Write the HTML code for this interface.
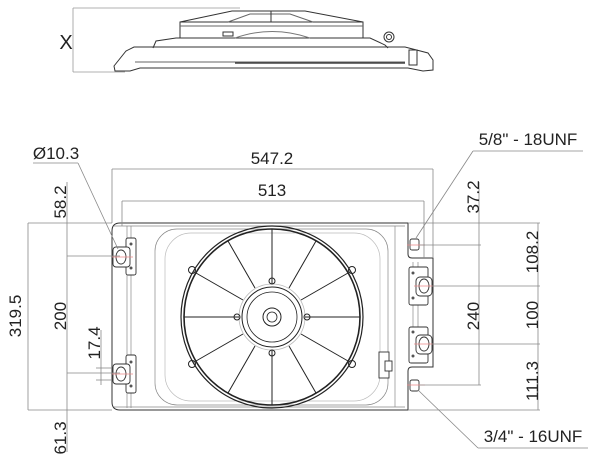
<!DOCTYPE html>
<html><head><meta charset="utf-8"><style>
html,body{margin:0;padding:0;background:#fff;}
svg{display:block;}
text{font-family:"Liberation Sans",sans-serif;fill:#222;}
</style></head><body>
<svg width="600" height="463" viewBox="0 0 600 463" xmlns="http://www.w3.org/2000/svg">
<g fill="none" stroke="#999" stroke-width="0.8">
<!-- top view dims -->
<line x1="73" y1="8" x2="240" y2="8"/>
<line x1="73" y1="8" x2="73" y2="72"/>
<line x1="73" y1="72" x2="125" y2="72"/>
</g>
<text x="66" y="49" font-size="20" text-anchor="middle">X</text>
<!-- top view body -->
<g fill="none" stroke="#333" stroke-width="1">
<path d="M114,66 L126,51 L134,47 L405,47 L428,53 L433,60 L433,70 L423,71 L408,68 L140,68 L130,71 L115,71 Z"/>
<line x1="135" y1="62" x2="405" y2="62" stroke="#666"/>
<line x1="235" y1="63" x2="405" y2="63" stroke="#444" stroke-width="1.5"/>
<path d="M153,48 L156,41 L176,38 L370,38 L385,45 L388,48"/>
<rect x="180" y="22" width="183" height="16"/>
<line x1="180" y1="26" x2="363" y2="26" stroke="#666"/>
<path d="M180,22 L232,11 L305,11 L363,22"/>
<path d="M228,22 L250,14 L290,14 L313,22" stroke="#666"/>
<line x1="271" y1="11" x2="271" y2="22"/>
<path d="M235,38 Q272,25 310,38" stroke="#777"/>
<rect x="223" y="32" width="10" height="4"/>
<circle cx="389" cy="37" r="5"/>
<circle cx="389" cy="37" r="2.5"/>
<rect x="409" y="50" width="8" height="15"/>
</g>
<!-- main body -->
<g fill="none" stroke="#333" stroke-width="1">
<path d="M120,223 L408,223 L408,254 Q408,258 412,258 L433,258 L433,367 L412,367 Q408,367 408,371 L408,410 L120,410 Q112,410 112,402 L112,231 Q112,223 120,223 Z"/>
</g>
<g fill="none" stroke="#888" stroke-width="0.7">
<line x1="127" y1="226" x2="127" y2="408"/>
<line x1="131" y1="226" x2="131" y2="408"/>
<line x1="114" y1="226" x2="405" y2="226"/>
<line x1="114" y1="407" x2="405" y2="407"/>
<rect x="155" y="229" width="233" height="176" rx="22"/>
<rect x="165" y="233" width="215" height="168" rx="26" stroke="#bbb"/>
<line x1="395" y1="226" x2="395" y2="407"/>
<line x1="413" y1="262" x2="413" y2="363"/>
<line x1="418" y1="262" x2="418" y2="363"/>
</g>
<!-- brackets left -->
<g fill="#fff" stroke="#333" stroke-width="0.9">
<rect x="126" y="238" width="10" height="37" rx="2"/>
<rect x="126" y="355" width="10" height="38" rx="2"/>
<rect x="113" y="247" width="17" height="20" rx="3"/>
<rect x="113" y="364" width="17" height="20" rx="3"/>
<ellipse cx="121" cy="257" rx="5" ry="7"/>
<ellipse cx="121" cy="374" rx="5" ry="7"/>
<rect x="409" y="267" width="19" height="38" rx="2"/>
<rect x="409" y="327" width="19" height="36" rx="2"/>
<rect x="416" y="277" width="16" height="19" rx="4"/>
<rect x="416" y="335" width="16" height="19" rx="4"/>
<ellipse cx="424" cy="286" rx="5" ry="7"/>
<ellipse cx="424" cy="344" rx="5" ry="7"/>
<rect x="410" y="239" width="9" height="11" rx="2"/>
<rect x="410" y="380" width="9" height="11" rx="2"/>
<rect x="379" y="352" width="10" height="26"/>
<rect x="385" y="361" width="7" height="10"/>
</g>
<g fill="#555">
<circle cx="131" cy="244" r="1.5"/><circle cx="131" cy="268" r="1.5"/>
<circle cx="131" cy="362" r="1.5"/><circle cx="131" cy="386" r="1.5"/>
<circle cx="413" cy="273" r="1.5"/><circle cx="413" cy="298" r="1.5"/>
<circle cx="413" cy="332" r="1.5"/><circle cx="413" cy="356" r="1.5"/>
</g>
<g stroke="#e88" stroke-width="0.8">
<line x1="112" y1="257" x2="133" y2="257"/><line x1="112" y1="374" x2="133" y2="374"/>
<line x1="414" y1="286" x2="434" y2="286"/><line x1="414" y1="344" x2="434" y2="344"/>
<line x1="407" y1="245" x2="425" y2="245"/><line x1="407" y1="385" x2="425" y2="385"/>
</g>
<!-- fan -->
<g fill="none" stroke="#222">
<circle cx="272" cy="317" r="91" stroke-width="1.2"/>
<circle cx="272" cy="317" r="88" stroke-width="1.6"/>
<circle cx="272" cy="317" r="33" stroke="#bbb" stroke-width="0.8"/>
<circle cx="272" cy="317" r="30" stroke-width="1"/>
<circle cx="272" cy="317" r="25" stroke-width="0.8"/>
<circle cx="272" cy="317" r="9" stroke-width="1"/>
<circle cx="272" cy="317" r="5" stroke-width="0.8"/>
<g stroke-width="1">
<line x1="272" y1="284" x2="272" y2="229"/>
<line x1="272" y1="350" x2="272" y2="405"/>
<line x1="239" y1="317" x2="184" y2="317"/>
<line x1="305" y1="317" x2="360" y2="317"/>
<line x1="255" y1="288" x2="228" y2="241"/>
<line x1="289" y1="288" x2="316" y2="241"/>
<line x1="255" y1="346" x2="228" y2="393"/>
<line x1="289" y1="346" x2="316" y2="393"/>
<line x1="243" y1="300" x2="196" y2="273"/>
<line x1="301" y1="300" x2="348" y2="273"/>
<line x1="243" y1="334" x2="196" y2="361"/>
<line x1="301" y1="334" x2="348" y2="361"/>
</g>
<circle cx="272" cy="281" r="3"/><circle cx="272" cy="353" r="3"/>
<circle cx="237" cy="317" r="3"/><circle cx="307" cy="317" r="3"/>
<circle cx="192" cy="270" r="3.5"/><circle cx="352" cy="270" r="3.5"/>
<circle cx="192" cy="364" r="3.5"/><circle cx="352" cy="364" r="3.5"/>
</g>
<!-- dimensions -->
<g fill="none" stroke="#888" stroke-width="0.8">
<line x1="112" y1="169" x2="433" y2="169"/>
<line x1="112" y1="169" x2="112" y2="223"/>
<line x1="433" y1="169" x2="433" y2="258"/>
<line x1="122" y1="201" x2="424" y2="201"/>
<line x1="122" y1="201" x2="122" y2="226"/>
<line x1="424" y1="201" x2="424" y2="258"/>
<line x1="33" y1="163" x2="78" y2="163"/>
<line x1="78" y1="163" x2="118" y2="249"/>
<line x1="28" y1="223" x2="112" y2="223"/>
<line x1="28" y1="410" x2="112" y2="410"/>
<line x1="28" y1="223" x2="28" y2="410"/>
<line x1="67" y1="182" x2="67" y2="452"/>
<line x1="67" y1="256" x2="120" y2="256"/>
<line x1="67" y1="373" x2="120" y2="373"/>
<line x1="101" y1="330" x2="101" y2="385"/>
<line x1="96" y1="368" x2="112" y2="368"/>
<line x1="96" y1="380" x2="112" y2="380"/>
<line x1="473" y1="151" x2="583" y2="151"/>
<line x1="473" y1="151" x2="416" y2="238"/>
<line x1="478" y1="448" x2="588" y2="448"/>
<line x1="478" y1="448" x2="418" y2="390"/>
<line x1="479" y1="182" x2="479" y2="385"/>
<line x1="538" y1="223" x2="538" y2="410"/>
<line x1="408" y1="223" x2="540" y2="223"/>
<line x1="420" y1="245" x2="481" y2="245"/>
<line x1="432" y1="286" x2="540" y2="286"/>
<line x1="432" y1="344" x2="540" y2="344"/>
<line x1="420" y1="385" x2="481" y2="385"/>
<line x1="408" y1="410" x2="540" y2="410"/>
</g>
<g font-size="17">
<text x="272" y="164" text-anchor="middle">547.2</text>
<text x="272" y="196" text-anchor="middle">513</text>
<text x="56" y="159" text-anchor="middle">Ø10.3</text>
<text x="528" y="145" text-anchor="middle">5/8" - 18UNF</text>
<text x="533" y="442" text-anchor="middle">3/4" - 16UNF</text>
<text transform="translate(21,316) rotate(-90)" text-anchor="middle">319.5</text>
<text transform="translate(66,202) rotate(-90)" text-anchor="middle">58.2</text>
<text transform="translate(66,316) rotate(-90)" text-anchor="middle">200</text>
<text transform="translate(66,438) rotate(-90)" text-anchor="middle">61.3</text>
<text transform="translate(100,343) rotate(-90)" text-anchor="middle">17.4</text>
<text transform="translate(479,197) rotate(-90)" text-anchor="middle">37.2</text>
<text transform="translate(479,316) rotate(-90)" text-anchor="middle">240</text>
<text transform="translate(538,252) rotate(-90)" text-anchor="middle">108.2</text>
<text transform="translate(538,315) rotate(-90)" text-anchor="middle">100</text>
<text transform="translate(538,381) rotate(-90)" text-anchor="middle">111.3</text>
</g>
</svg>
</body></html>
